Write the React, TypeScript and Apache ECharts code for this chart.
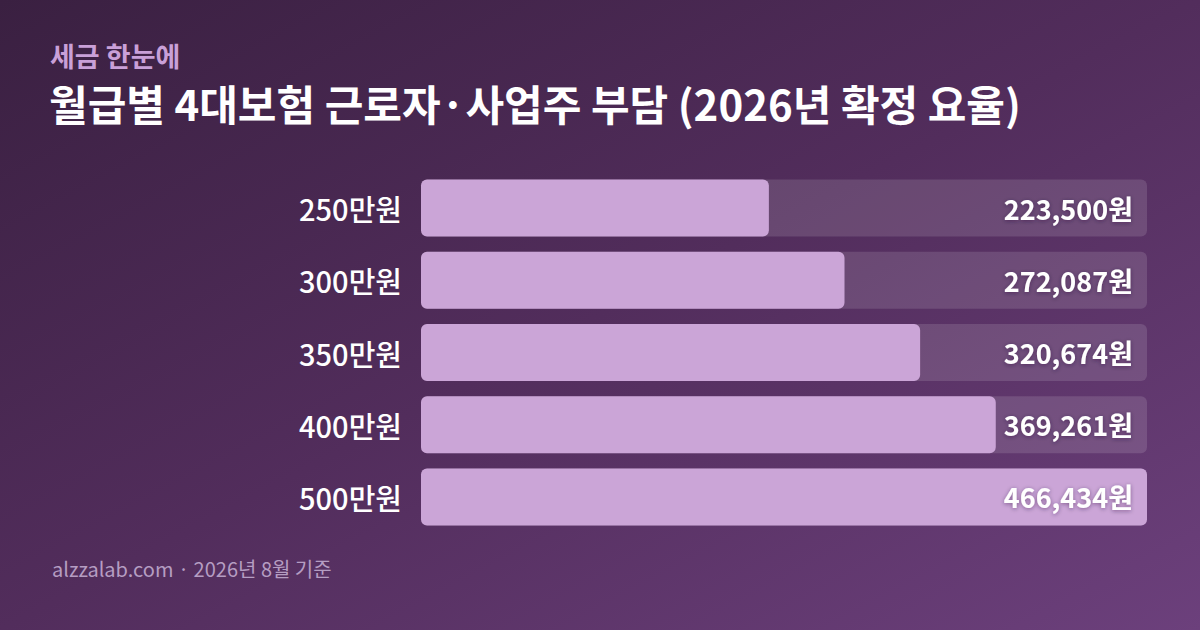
import React, { useEffect, useRef } from "react";
import * as echarts from "echarts";

const categories = ["250만원", "300만원", "350만원", "400만원", "500만원"];
const values = [223500, 272087, 320674, 369261, 466434];
const kicker = "세금 한눈에";
const title = "월급별 4대보험 근로자·사업주 부담 (2026년 확정 요율)";
const footer = "alzzalab.com · 2026년 8월 기준";

const FONT = "'Noto Sans CJK KR', 'Noto Sans', sans-serif";

export default function App() {
  const ref = useRef<HTMLDivElement>(null);
  useEffect(() => {
    if (!ref.current) return;
    const chart = echarts.init(ref.current, undefined, { renderer: "svg" });
    const maxV = Math.max(...values);
    chart.setOption({
      animation: false,
      backgroundColor: new echarts.graphic.LinearGradient(0, 0, 1, 1, [
        { offset: 0, color: "#3a2041" },
        { offset: 0.5, color: "#522d5c" },
        { offset: 1, color: "#6c407c" },
      ]),
      textStyle: { fontFamily: FONT },
      grid: { left: 421, right: 53, top: 172, bottom: 97, containLabel: false },
      xAxis: {
        type: "value",
        min: 0,
        max: maxV,
        show: false,
      },
      yAxis: {
        type: "category",
        data: categories,
        inverse: true,
        axisLine: { show: false },
        axisTick: { show: false },
        splitLine: { show: false },
        axisLabel: {
          color: "#ffffff",
          fontSize: 29,
          fontWeight: 500,
          fontFamily: FONT,
          margin: 19,
        },
      },
      series: [
        {
          type: "bar",
          data: values,
          barWidth: 57,
          showBackground: true,
          backgroundStyle: { color: "rgba(255,255,255,0.13)", borderRadius: 6 },
          itemStyle: { color: "#cba5d7", borderRadius: 6 },
          silent: true,
        },
        {
          type: "bar",
          data: values.map(() => maxV),
          barWidth: 57,
          barGap: "-100%",
          itemStyle: { color: "rgba(0,0,0,0)" },
          silent: true,
          label: {
            show: true,
            position: "insideRight",
            distance: 14,
            formatter: (p: any) => values[p.dataIndex].toLocaleString("en-US") + "원",
            color: "#ffffff",
            fontSize: 27,
            fontWeight: 700,
            fontFamily: FONT,
            textShadowColor: "rgba(40,10,50,0.45)",
            textShadowBlur: 4,
            textShadowOffsetY: 1,
          },
        },
      ],
      graphic: [
        {
          type: "text",
          left: 50,
          top: 42,
          style: {
            text: kicker,
            fill: "#c9a0d8",
            font: `700 27px ${FONT}`,
          },
        },
        {
          type: "text",
          left: 49,
          top: 81,
          style: {
            text: title,
            fill: "#ffffff",
            font: `700 42px ${FONT}`,
          },
        },
        {
          type: "text",
          left: 52,
          top: 558,
          style: {
            text: footer,
            fill: "#b59dc2",
            font: `400 20px ${FONT}`,
          },
        },
      ],
    });
    return () => chart.dispose();
  }, []);
  return (
    <div
      ref={ref}
      style={{ position: "absolute", left: 0, top: 0, width: 1200, height: 630 }}
    />
  );
}
